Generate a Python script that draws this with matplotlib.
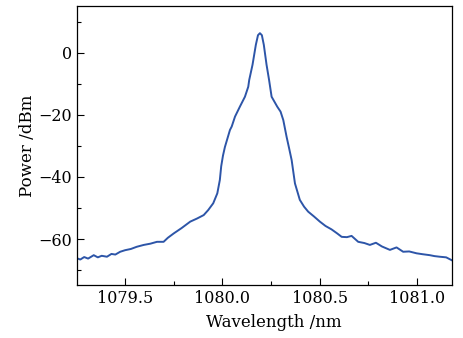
import matplotlib
matplotlib.use("Agg")
import matplotlib.pyplot as plt
from matplotlib.ticker import MultipleLocator

# spectrum (nm, dBm)
wavelength = [1079.253, 1079.27, 1079.29, 1079.31, 1079.339, 1079.36, 1079.38, 1079.407,
              1079.43, 1079.45, 1079.475, 1079.50, 1079.53, 1079.56, 1079.596, 1079.63,
              1079.664, 1079.698, 1079.72, 1079.750, 1079.79, 1079.835, 1079.87, 1079.904,
              1079.927, 1079.953, 1079.974, 1079.987, 1079.994, 1080.003, 1080.013,
              1080.039, 1080.048, 1080.065, 1080.090, 1080.116, 1080.133, 1080.138, 1080.155,
              1080.172, 1080.183, 1080.193, 1080.203, 1080.213, 1080.227,
              1080.240, 1080.253, 1080.282, 1080.299, 1080.313, 1080.330, 1080.343, 1080.356,
              1080.373, 1080.398, 1080.420, 1080.441, 1080.470, 1080.501, 1080.530, 1080.561, 1080.590,
              1080.613, 1080.640, 1080.664, 1080.698, 1080.730, 1080.758, 1080.789, 1080.820,
              1080.861, 1080.895, 1080.929, 1080.960, 1080.998, 1081.030, 1081.066, 1081.090,
              1081.117, 1081.150, 1081.178]
power = [-66.2, -66.6, -65.8, -66.3, -65.2, -65.9, -65.4, -65.7,
         -64.8, -65.0, -64.1, -63.6, -63.2, -62.5, -61.9, -61.5,
         -60.9, -60.9, -59.6, -58.2, -56.5, -54.4, -53.4, -52.3,
         -50.7, -48.5, -45.3, -41.0, -36.6, -33.2, -30.4,
         -24.9, -23.8, -20.6, -17.4, -14.2, -11.0, -8.8, -3.9,
         2.5, 5.6, 6.25, 5.6, 2.5, -3.9,
         -8.8, -14.2, -17.4, -19.0, -21.7, -27.1, -30.8, -34.6,
         -42.1, -47.4, -49.6, -51.2, -52.7, -54.4, -55.8, -56.9, -58.2,
         -59.3, -59.4, -59.0, -60.9, -61.3, -61.9, -61.2, -62.4,
         -63.5, -62.7, -64.1, -64.0, -64.6, -64.9, -65.2, -65.5,
         -65.7, -65.9, -66.8]

plt.rcParams['font.family'] = ['DejaVu Serif']

fig = plt.figure(figsize=(4.63, 3.38), dpi=100)
ax = fig.add_axes([77 / 463, 1 - 285 / 338, 375 / 463, 279 / 338])

ax.plot(wavelength, power, color='#2d55a8', lw=1.4)

ax.set_xlim(1079.253, 1081.18)
ax.set_ylim(-74.8, 15)
ax.xaxis.set_major_locator(MultipleLocator(0.5))
ax.xaxis.set_minor_locator(MultipleLocator(0.25))
ax.yaxis.set_major_locator(MultipleLocator(20))
ax.yaxis.set_minor_locator(MultipleLocator(10))
ax.xaxis.set_major_formatter(plt.FuncFormatter(lambda v, p: f"{v:.1f}"))
ax.yaxis.set_major_formatter(plt.FuncFormatter(lambda v, p: f"{v:.0f}".replace('-', '\u2212')))

ax.tick_params(which='both', direction='in', top=False, right=False, labelsize=11.5)
ax.tick_params(which='major', length=5, width=0.8)
ax.tick_params(which='minor', length=3, width=0.8)
for s in ax.spines.values():
    s.set_linewidth(0.9)

ax.set_xlabel('Wavelength /nm', fontsize=12, labelpad=1)
ax.set_ylabel('Power /dBm', fontsize=12, labelpad=2)
ax.xaxis.set_label_coords(0.524, -0.105)

fig.savefig('out.png', dpi=100)
